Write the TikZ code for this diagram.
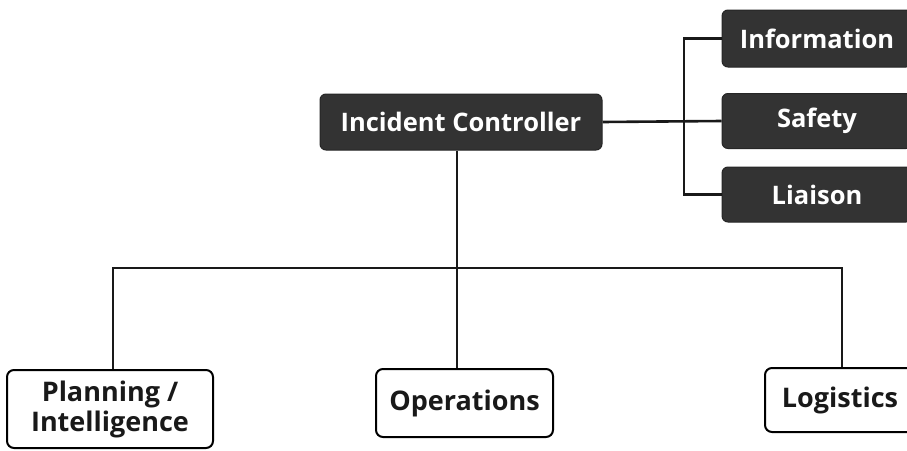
\documentclass[tikz,border=0pt]{standalone}
\usepackage{fontspec}
\setmainfont{Open Sans}
\begin{document}
\begin{tikzpicture}[x=1pt,y=-1pt,
  darkbox/.style={draw=black!85, fill=black!80, rounded corners=6pt, line width=1pt,
    text=white, font=\fontsize{25.5}{30}\selectfont\bfseries, inner sep=0pt, align=center},
  whitebox/.style={draw=black, fill=white, rounded corners=7pt, line width=2pt,
    text=black!90, font=\fontsize{27}{30}\selectfont\bfseries, inner sep=0pt, align=center},
  link/.style={draw=black!90, line width=2.6pt}]
\useasboundingbox (0,0) rectangle (907,450);
\clip (0,0) rectangle (907,450);
\fill[white] (0,0) rectangle (907,450);

% command level
\node[darkbox, minimum width=282pt, minimum height=56pt] (ic) at (461,122) {Incident Controller};
\node[darkbox, minimum width=190pt, minimum height=57pt] (info) at (817,38.5) {Information};
\node[darkbox, minimum width=190pt, minimum height=55pt] (safe) at (817,121) {Safety};
\node[darkbox, minimum width=190pt, minimum height=55pt] (liai) at (817,194.5) {Liaison};

% sections
\node[whitebox, minimum width=206pt, minimum height=78pt] (plan) at (110,409) {Planning /\\Intelligence};
\node[whitebox, minimum width=177pt, minimum height=68pt] (ops) at (464.5,403) {Operations};
\node[whitebox, minimum width=150pt, minimum height=64pt] (log) at (840,400) {Logistics};

% connection points
\coordinate (bus) at (457,268);
\coordinate (brk) at (684,121);

% command staff bracket
\draw[link] (ic.east) -- (safe.west);
\draw[link] (info.west) -| (brk) |- (liai.west);

% section bus
\draw[link] (bus |- ic.south) -- (bus |- ops.north);
\draw[link] (plan.north -| 113,0) -- (113,268) -- (842,268) -- (log.north -| 842,0);
\end{tikzpicture}
\end{document}
